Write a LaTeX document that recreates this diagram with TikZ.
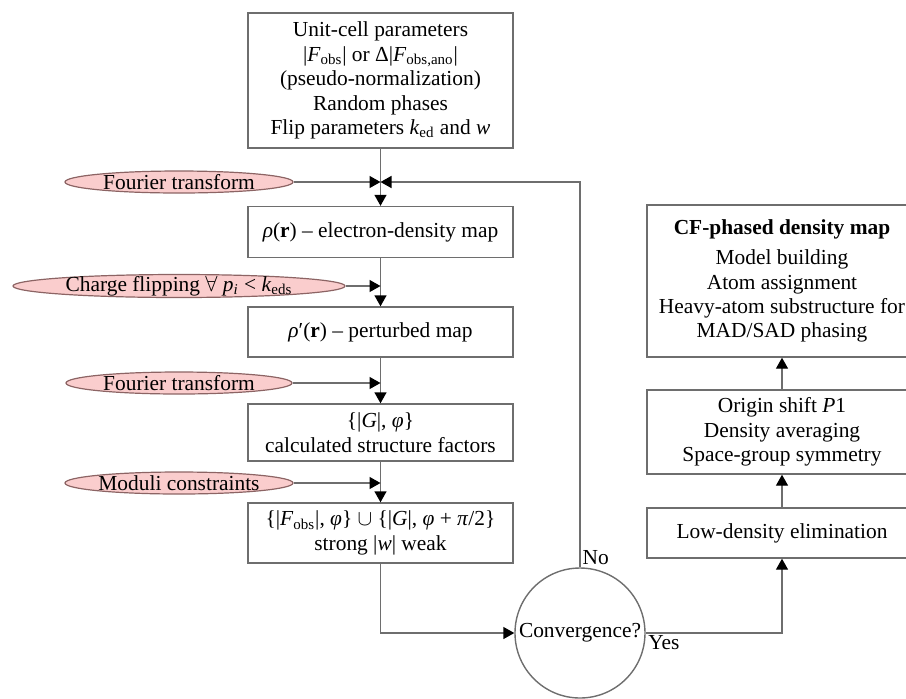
\documentclass[tikz,border=0pt]{standalone}
\usepackage{fontspec}
\setmainfont{Liberation Serif}
\usetikzlibrary{shapes.geometric, arrows.meta, positioning}
\definecolor{linegray}{RGB}{110,110,110}
\definecolor{ovalfill}{RGB}{250,205,205}
\definecolor{ovaldraw}{RGB}{140,100,100}
\tikzset{
    block/.style={
        rectangle, draw=linegray, line width=0.7pt, fill=white,
        align=center, minimum width=132.5pt, inner sep=0pt,
        font=\fontsize{10.7}{12.2}\selectfont
    },
    rightblock/.style={block, minimum width=135pt},
    oval/.style={
        ellipse, draw=ovaldraw, line width=0.6pt, fill=ovalfill,
        inner xsep=-10pt, inner ysep=-4pt, minimum height=11pt,
        font=\fontsize{10.7}{12.2}\selectfont
    },
    decision/.style={
        circle, draw=linegray, line width=0.7pt, minimum size=65pt,
        inner sep=0pt, font=\fontsize{10.7}{12.2}\selectfont
    },
    flow/.style={draw=linegray, line width=0.7pt,
        -{Triangle[length=5.5pt, width=6pt, color=black]}},
    label/.style={font=\fontsize{10.7}{12.2}\selectfont, inner sep=1pt}
}

\begin{document}
\begin{tikzpicture}[x=0.5pt, y=-0.5pt]
    \path[use as bounding box, clip] (0,0) rectangle (906,698);

    % Main loop
    \node[block, minimum height=67.5pt] (init) at (380.5,80.5) {Unit-cell parameters\\
        |\textit{F}\textsubscript{obs}| or Δ|\textit{F}\textsubscript{obs,ano}|\\
        (pseudo-normalization)\\ Random phases\\
        Flip parameters \textit{k}\textsubscript{ed} and \textit{w}};
    \node[block, minimum height=25.5pt] (rho) at (380.5,232) {\textit{ρ}(\textbf{r}) – electron-density map};
    \node[block, minimum height=25pt] (rhop) at (380.5,332) {\textit{ρ}′(\textbf{r}) – perturbed map};
    \node[block, minimum height=28.5pt] (calc) at (380.5,432.5) {\{|\textit{G}|, \textit{φ}\}\\ calculated structure factors};
    \node[block, minimum height=30pt] (mix) at (380.5,533) {\{|\textit{F}\textsubscript{obs}|, \textit{φ}\} $\cup$ \{|\textit{G}|, \textit{φ} + \textit{π}/2\}\\ strong |\textit{w}| weak};
    \node[decision] (conv) at (580,633) {Convergence?};

    % Operations
    \node[oval, minimum width=114pt] (ft1) at (179,182) {Fourier transform};
    \node[oval, minimum width=166pt, minimum height=11.5pt] (cfl) at (179,286) {Charge flipping $\forall$ \textit{p\textsubscript{i}} < \textit{k}\textsubscript{eds}};
    \node[oval, minimum width=113pt] (ft2) at (179,383) {Fourier transform};
    \node[oval, minimum width=114pt] (mod) at (179,483) {Moduli constraints};

    % Post-processing
    \node[rightblock, minimum height=25pt] (low) at (782,533) {Low-density elimination};
    \node[rightblock, minimum height=42pt] (orig) at (782,432) {Origin shift \textit{P}1\\ Density averaging\\ Space-group symmetry};
    \node[rightblock, minimum height=76pt] (cf) at (782,281) {\textbf{CF-phased density map}\\[3pt]
        Model building\\ Atom assignment\\ Heavy-atom substructure for\\ MAD/SAD phasing};

    % Connections
    \draw[flow] (init.south) -- (rho.north);
    \draw[flow] (ft1.east) -- (ft1.east -| init.south);
    \draw[flow] (conv.north) node[label, above right] {No} |- (ft1.east -| init.south);
    \draw[flow] (rho.south) -- (rhop.north);
    \draw[flow] (cfl.east) -- (cfl.east -| rho.south);
    \draw[flow] (rhop.south) -- (calc.north);
    \draw[flow] (ft2.east) -- (ft2.east -| rhop.south);
    \draw[flow] (calc.south) -- (mix.north);
    \draw[flow] (mod.east) -- (mod.east -| calc.south);
    \draw[flow] (mix.south) |- (conv.west);
    \draw[flow] (conv.east) node[label, below right] {Yes} -| (low.south);
    \draw[flow] (low.north) -- (orig.south);
    \draw[flow] (orig.north) -- (cf.south);
\end{tikzpicture}
\end{document}
